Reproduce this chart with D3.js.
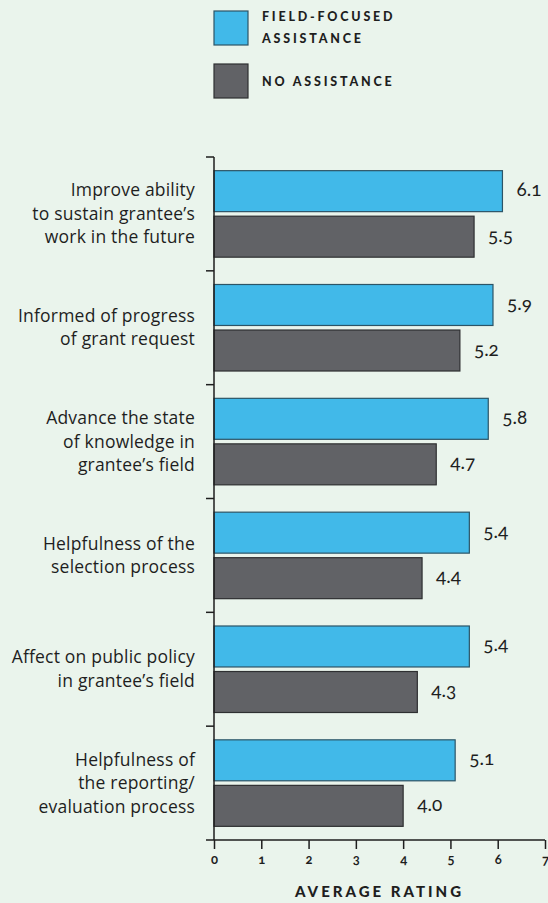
<!DOCTYPE html>
<html>
<head>
<meta charset="utf-8">
<script src="https://cdn.jsdelivr.net/npm/d3@7"></script>
<style>
  body { margin: 0; background: #eaf4ec; }
  svg { display: block; }
  text { fill: #1e1e1e; font-family: Lato, "Open Sans", sans-serif; }
  .num { font-feature-settings: "onum" 1; }
  .cat { font-family: "Open Sans", Lato, sans-serif; }
</style>
</head>
<body>
<svg width="548" height="903"></svg>
<script>
// chart values
var categories = [
  ["Improve ability", "to sustain grantee\u2019s", "work in the future"],
  ["Informed of progress", "of grant request"],
  ["Advance the state", "of knowledge in", "grantee\u2019s field"],
  ["Helpfulness of the", "selection process"],
  ["Affect on public policy", "in grantee\u2019s field"],
  ["Helpfulness of", "the reporting/", "evaluation process"]
];
var fieldFocused = [6.1, 5.9, 5.8, 5.4, 5.4, 5.1];
var noAssistance = [5.5, 5.2, 4.7, 4.4, 4.3, 4.0];
var seriesNames = ["FIELD-FOCUSED|ASSISTANCE", "NO ASSISTANCE"];
var xTicks = [0, 1, 2, 3, 4, 5, 6, 7];

var colors = { fill: ["#41b9e9", "#616266"], stroke: ["#2c5466", "#2e2f31"] };

var svg = d3.select("svg");

var x = d3.scaleLinear().domain([0, 7]).range([214, 545]);
var y = d3.scaleBand().domain(d3.range(categories.length)).range([157, 840]);
var sub = d3.scaleBand().domain([0, 1]).range([0, y.bandwidth()])
    .paddingInner(0.1).paddingOuter(0.3);

// legend
var legend = svg.append("g");
seriesNames.forEach(function(name, i) {
  var g = legend.append("g").attr("transform", "translate(214," + (11 + i * 53) + ")");
  g.append("rect").attr("width", 34).attr("height", 34)
    .attr("fill", colors.fill[i]).attr("stroke", colors.stroke[i]).attr("stroke-width", 1.2);
  var lines = name.split("|");
  var t = g.append("text")
    .style("font-weight", 900).style("font-size", "12.5px").style("letter-spacing", "2.8px");
  lines.forEach(function(l, j) {
    var base = lines.length === 1 ? 21.5 : 10 + j * 22;
    t.append("tspan").attr("x", 48).attr("y", base).text(l);
  });
});

// bars
var groups = svg.append("g").selectAll("g")
  .data(categories)
  .join("g")
  .attr("transform", function(d, i) { return "translate(0," + y(i) + ")"; });

groups.each(function(d, i) {
  var g = d3.select(this);
  [fieldFocused[i], noAssistance[i]].forEach(function(v, s) {
    g.append("rect")
      .attr("x", x(0))
      .attr("y", sub(s))
      .attr("width", x(v) - x(0))
      .attr("height", sub.bandwidth())
      .attr("fill", colors.fill[s])
      .attr("stroke", colors.stroke[s])
      .attr("stroke-width", 1.2);
    g.append("text")
      .attr("class", "num")
      .attr("x", x(v) + 14)
      .attr("y", sub(s) + sub.bandwidth() / 2 + 5)
      .style("font-size", "19px")
      .text(v.toFixed(1));
  });

  // category label
  var lh = 23.5;
  var t = g.append("text").attr("class", "cat").attr("text-anchor", "end")
    .style("font-size", "17.5px").style("letter-spacing", "0.2px");
  d.forEach(function(line, j) {
    t.append("tspan")
      .attr("x", 195)
      .attr("y", y.bandwidth() / 2 + (j - (d.length - 1) / 2) * lh + 6)
      .text(line);
  });
});

// y axis
var yAxis = svg.append("g").attr("stroke", "#1e1e1e").attr("stroke-width", 1.5);
yAxis.append("line").attr("x1", x(0)).attr("x2", x(0)).attr("y1", y.range()[0]).attr("y2", y.range()[1]);
yAxis.selectAll(".tick").data(d3.range(categories.length))
  .join("line")
  .attr("x1", x(0) - 8).attr("x2", x(0))
  .attr("y1", function(i) { return y(i); })
  .attr("y2", function(i) { return y(i); });

// x axis
var xAxis = svg.append("g")
  .attr("transform", "translate(0,840)")
  .call(d3.axisBottom(x).tickValues(xTicks).tickFormat(d3.format("d"))
    .tickSize(9).tickSizeOuter(0).tickPadding(6));
xAxis.select(".domain").remove();
xAxis.selectAll(".tick line").attr("stroke", "#1e1e1e").attr("stroke-width", 1.5);
xAxis.selectAll(".tick text")
  .attr("class", "num")
  .style("font-family", "Lato, sans-serif")
  .style("font-size", "13px")
  .style("font-weight", 700)
  .attr("fill", "#1e1e1e");
xAxis.append("line").attr("x1", x(0) - 8).attr("x2", x(7))
  .attr("stroke", "#1e1e1e").attr("stroke-width", 1.5);

svg.append("text")
  .attr("x", (x(0) + x(7)) / 2)
  .attr("y", 897)
  .attr("text-anchor", "middle")
  .style("font-weight", 900).style("font-size", "15px").style("letter-spacing", "3px")
  .text("AVERAGE RATING");
</script>
</body>
</html>
